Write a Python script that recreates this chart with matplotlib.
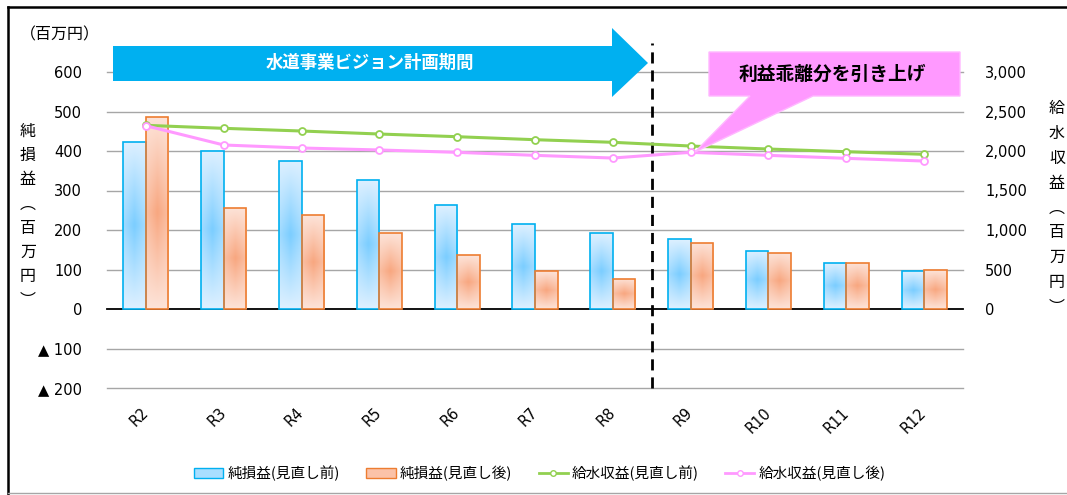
import numpy as np
import matplotlib
matplotlib.use("Agg")
import matplotlib.pyplot as plt
from matplotlib.patches import Polygon, Patch
from matplotlib.lines import Line2D

plt.rcParams['font.family'] = ['DejaVu Sans', 'Noto Sans CJK JP']
JP = ['Noto Sans CJK JP', 'DejaVu Sans']

# data
years = ["R2", "R3", "R4", "R5", "R6", "R7", "R8", "R9", "R10", "R11", "R12"]
profit_before = [423, 401, 375, 327, 263, 215, 192, 176, 148, 117, 95]
profit_after = [487, 256, 237, 192, 136, 95, 77, 168, 143, 117, 98]
revenue_before = [2325, 2287, 2253, 2215, 2181, 2143, 2110, 2063, 2025, 1991, 1958]
revenue_after = [2320, 2076, 2038, 2013, 1983, 1945, 1911, 1983, 1945, 1907, 1873]

left_ticks = [-200, -100, 0, 100, 200, 300, 400, 500, 600]
right_ticks = [0, 500, 1000, 1500, 2000, 2500, 3000]

W, H = 1067, 495
BLUE_EDGE = "#00B0F0"
ORANGE_EDGE = "#ED7D31"
GREEN = "#92D050"
PINK = "#FF99FF"


def fx(px):
    return px / W


def fy(py):
    return 1 - py / H


def gradient_bar(ax, bar, light, dark):
    x0, y0 = bar.get_x(), bar.get_y()
    w, h = bar.get_width(), bar.get_height()
    s = np.linspace(0, 1, 30)
    t = np.linspace(0, 1, 60)
    S, T = np.meshgrid(s, t)
    f = (1 - np.abs(2 * T - 1)) * (1 - 0.4 * np.abs(2 * S - 1))
    light = np.array(matplotlib.colors.to_rgb(light))
    dark = np.array(matplotlib.colors.to_rgb(dark))
    img = light + (dark - light) * f[..., None]
    im = ax.imshow(img, extent=(x0, x0 + w, y0, y0 + h), origin="lower",
                   aspect="auto", zorder=1, interpolation="bilinear")
    im.set_clip_path(bar)


fig = plt.figure(figsize=(W / 100, H / 100), dpi=100)
ax = fig.add_axes([fx(107), fy(388), (963 - 107) / W, (388 - 72) / H])
ax2 = ax.twinx()

x = np.arange(len(years))
bw = 0.29
bars1 = ax.bar(x - bw / 2, profit_before, bw, facecolor="none",
               edgecolor=BLUE_EDGE, linewidth=1.2, zorder=2)
bars2 = ax.bar(x + bw / 2, profit_after, bw, facecolor="none",
               edgecolor=ORANGE_EDGE, linewidth=1.2, zorder=2)
for b in bars1:
    gradient_bar(ax, b, "#DDF0FF", "#7ACDFF")
for b in bars2:
    gradient_bar(ax, b, "#FDE3D8", "#F8A67F")

ax.set_xlim(-0.5, len(years) - 0.5)
ax.set_ylim(-200, 600)
ax.set_yticks(left_ticks)
ax.set_yticklabels([("▲ %d" % -v) if v < 0 else str(v) for v in left_ticks])
for v in left_ticks:
    ax.axhline(v, color="black" if v == 0 else "#A6A6A6",
               lw=1.3 if v == 0 else 1.0, zorder=0.5, clip_on=False)
ax.set_xticks(x)
ax.set_xticklabels(years, rotation=45, ha="right", va="center",
                   rotation_mode="anchor")
ax.tick_params(axis="x", length=0, pad=16, labelsize=10.5)
ax.tick_params(axis="y", length=0, pad=18, labelsize=10.5)
for sp in ax.spines.values():
    sp.set_visible(False)

# split line between plan periods
ax.plot([6.5, 6.5], [-200, 673], color="black", lw=2, ls=(0, (4, 2.5)),
        clip_on=False, zorder=3)

ax2.plot(x, revenue_before, color=GREEN, lw=2.2, marker="o", ms=5,
         mfc="white", mec=GREEN, mew=1.3)
ax2.plot(x, revenue_after, color=PINK, lw=2.2, marker="o", ms=5,
         mfc="white", mec=PINK, mew=1.3)
ax2.set_ylim(-1000, 3000)
ax2.set_yticks(right_ticks)
ax2.set_yticklabels([f"{v:,}" for v in right_ticks])
ax2.tick_params(axis="y", length=0, pad=16, labelsize=10.5)
for sp in ax2.spines.values():
    sp.set_visible(False)

# axis titles, stacked vertically
fig.text(fx(60), fy(35), "（百万円）", ha="center", va="center", fontsize=11.5,
         family=JP)
fig.text(fx(28), fy(216), "\n".join("純損益︵百万円︶"), ha="center",
         va="center", fontsize=11.5, linespacing=1.55, family=JP)
fig.text(fx(1057), fy(208), "\n".join("給水収益︵百万円︶"), ha="center",
         va="center", fontsize=11.5, linespacing=1.6, family=JP)

# blue period arrow
arrow = [(113, 46), (612, 46), (612, 28), (648, 63), (612, 97), (612, 81), (113, 81)]
fig.patches.append(Polygon([(fx(a), fy(b)) for a, b in arrow], closed=True,
                           transform=fig.transFigure, facecolor=BLUE_EDGE,
                           edgecolor="none", zorder=5))
fig.text(fx(370), fy(63), "水道事業ビジョン計画期間", color="white",
         fontweight="bold", ha="center", va="center", fontsize=12.5, zorder=6,
         family=JP)

# pink callout
callout = [(709, 52), (960, 52), (960, 96), (813, 96), (695, 152), (750, 96), (709, 96)]
fig.patches.append(Polygon([(fx(a), fy(b)) for a, b in callout], closed=True,
                           transform=fig.transFigure, facecolor=PINK,
                           edgecolor="#FFB8FF", lw=1, zorder=5))
fig.text(fx(832), fy(74), "利益乖離分を引き上げ", color="black",
         fontweight="bold", ha="center", va="center", fontsize=13.5, zorder=6,
         family=JP)

# outer frame
fig.add_artist(Line2D([fx(8), fx(8)], [fy(7), fy(495)], color="black", lw=1.8,
                      transform=fig.transFigure))
fig.add_artist(Line2D([fx(8), 1], [fy(7), fy(7)], color="black", lw=1.8,
                      transform=fig.transFigure))
fig.add_artist(Line2D([fx(8), 1], [fy(493), fy(493)], color="#A6A6A6", lw=1,
                      transform=fig.transFigure))

handles = [
    Patch(facecolor="#A9DEFF", edgecolor=BLUE_EDGE, label="純損益(見直し前)"),
    Patch(facecolor="#FBC2A8", edgecolor=ORANGE_EDGE, label="純損益(見直し後)"),
    Line2D([], [], color=GREEN, lw=2, marker="o", ms=4, mfc="white", mec=GREEN,
           label="給水収益(見直し前)"),
    Line2D([], [], color=PINK, lw=2, marker="o", ms=4, mfc="white", mec=PINK,
           label="給水収益(見直し後)"),
]
fig.legend(handles=handles, loc="center", bbox_to_anchor=(fx(540), fy(473)),
           ncol=4, frameon=False, handlelength=2.0, handletextpad=0.3,
           columnspacing=1.8, prop={"family": JP, "size": 10.5})

fig.savefig("out.png", dpi=100)
